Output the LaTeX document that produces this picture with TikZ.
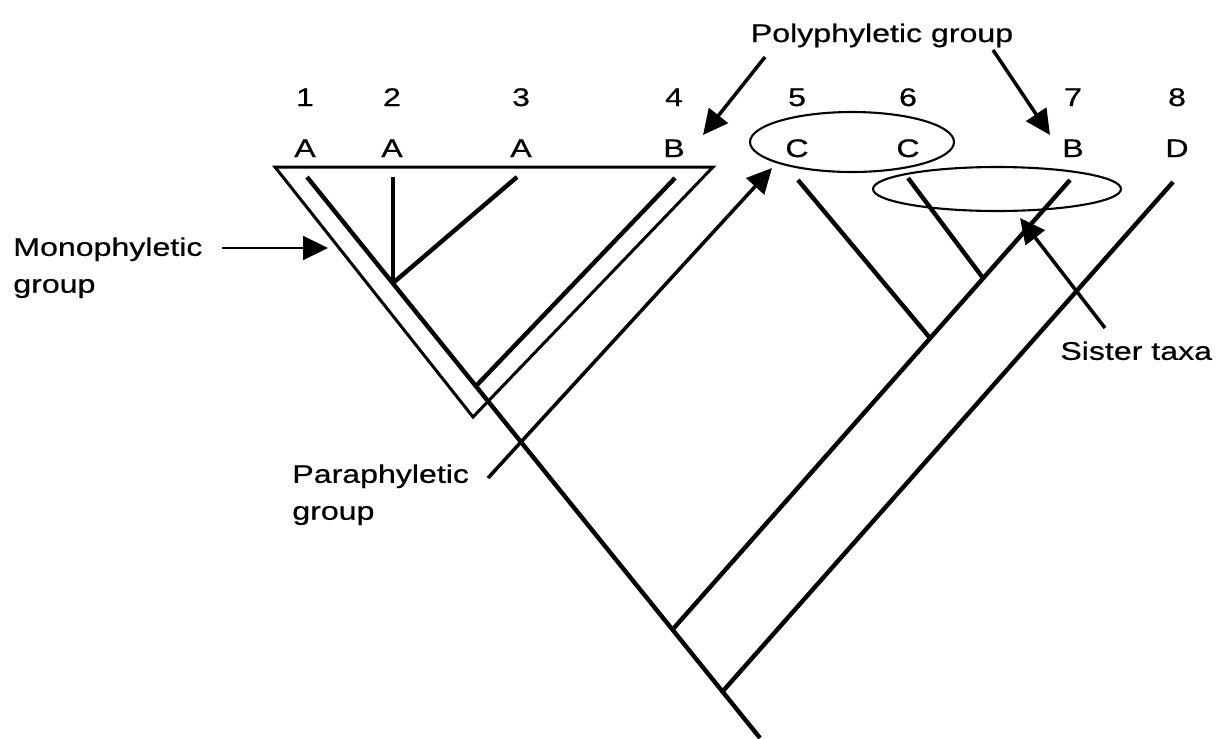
\documentclass[tikz,border=0pt]{standalone}
\usepackage{fontspec}
\setmainfont{Liberation Sans}[FakeStretch=1.26,FakeBold=0.6]
\usetikzlibrary{arrows.meta,shapes.geometric}

\begin{document}
\begin{tikzpicture}[
		x=0.02cm, y=-0.02cm,
		>={Triangle[length=5mm,width=4.8mm]},
		branch/.style={line width=2.5pt},
		outline/.style={line width=1.7pt,line join=miter},
		pointer/.style={line width=2pt,->},
		ring/.style={draw,ellipse,line width=1.2pt,inner sep=0pt},
		taxon/.style={anchor=base,inner sep=0pt,font=\fontsize{14.5}{21}\selectfont},
		caption/.style={align=left,anchor=north west,inner sep=0pt,font=\fontsize{14.5}{21}\selectfont}
	]
		\useasboundingbox (0,0) rectangle (1220,738);

		% Taxa
		\foreach \x/\n/\l in {305/1/A, 392/2/A, 521/3/A, 674/4/B, 797/5/C, 908/6/C, 1073/7/B, 1177/8/D} {
			\node[taxon] (num\n) at (\x,106) {\n};
			\node[taxon] (tax\n) at (\x,157) {\l};
		}

		% Tips and nodes of the tree
		\coordinate (t1) at (307,177);
		\coordinate (t2) at (393,177);
		\coordinate (t3) at (517,177);
		\coordinate (t4) at (675,178);
		\coordinate (t5) at (798,180);
		\coordinate (t6) at (908,178);
		\coordinate (t7) at (1070,180);
		\coordinate (t8) at (1173,182);
		\coordinate (n23) at (393,283);
		\coordinate (n4) at (476,386);
		\coordinate (n7) at (673,629);
		\coordinate (n8) at (723,691);
		\coordinate (n5) at (930,338);
		\coordinate (n67) at (983,278);
		\coordinate (root) at (760,738);

		% Branches
		\draw[branch] (t1) -- (root);
		\draw[branch] (t2) -- (n23);
		\draw[branch] (t3) -- (n23);
		\draw[branch] (t4) -- (n4);
		\draw[branch] (t7) -- (n7);
		\draw[branch] (t6) -- (n67);
		\draw[branch] (t5) -- (n5);
		\draw[branch] (t8) -- (n8);

		% Groups
		\draw[outline] (275,167) -- (713,167) -- (473,417) -- cycle;
		\node[ring, minimum width=4.08cm, minimum height=1.2cm] (ccring) at (852,142) {};
		\node[ring, minimum width=4.96cm, minimum height=0.88cm] (sisring) at (997,189) {};

		% Labels
		\node[taxon] (poly) at (882,42) {Polyphyletic group};
		\node[caption] (mono) at (13,237) {Monophyletic\\group};
		\node[caption] (para) at (292,464) {Paraphyletic\\group};
		\node[caption] (sister) at (1060,341) {Sister taxa};

		% Arrows
		\coordinate (m0) at (222,248);
		\coordinate (m1) at (328,248);
		\coordinate (p0) at (765,57);
		\coordinate (p1) at (703,135);
		\coordinate (q0) at (993,50);
		\coordinate (q1) at (1050,135);
		\coordinate (r0) at (488,478);
		\coordinate (r1) at (772,168);
		\coordinate (s0) at (1105,328);
		\coordinate (s1) at (1020,218);
		\draw[pointer, line width=1.2pt] (m0) -- (m1);
		\draw[pointer] (p0) -- (p1);
		\draw[pointer] (q0) -- (q1);
		\draw[pointer] (r0) -- (r1);
		\draw[pointer] (s0) -- (s1);
	\end{tikzpicture}
\end{document}
